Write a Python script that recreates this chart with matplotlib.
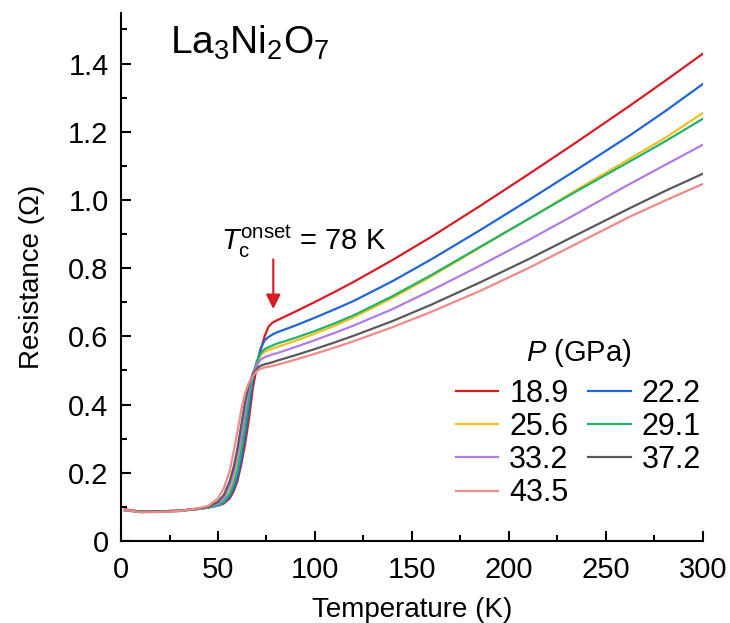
import numpy as np
import matplotlib
matplotlib.use("Agg")
import matplotlib.pyplot as plt
from matplotlib.ticker import MultipleLocator, FuncFormatter

plt.rcParams['font.family'] = ['Liberation Sans', 'DejaVu Sans']
plt.rcParams['mathtext.fontset'] = 'custom'
plt.rcParams['mathtext.rm'] = 'Liberation Sans'
plt.rcParams['mathtext.it'] = 'Liberation Sans:italic'

temps = [2, 10, 20, 30, 40, 45, 50, 53, 56, 58, 60, 62, 64, 66, 68, 70, 72, 74, 76, 78,
         80, 90, 100, 110, 120, 140, 160, 185, 210, 235, 262, 280, 300]

pressures = ['18.9', '22.2', '25.6', '29.1', '33.2', '37.2', '43.5']
colors = ['#d81c24', '#1f66d8', '#f2c01e', '#22b46c', '#b07ce6', '#5a5a5a', '#f08a8a']

r_189 = [0.093, 0.086, 0.087, 0.089, 0.095, 0.099, 0.104, 0.110, 0.125, 0.145, 0.175, 0.225,
         0.285, 0.360, 0.450, 0.510, 0.560, 0.600, 0.628, 0.640,
         0.646, 0.673, 0.701, 0.730, 0.760, 0.824, 0.892, 0.982, 1.075, 1.170, 1.275, 1.347, 1.429]
r_222 = [0.090, 0.085, 0.086, 0.088, 0.094, 0.098, 0.104, 0.112, 0.130, 0.152, 0.185, 0.240,
         0.310, 0.390, 0.470, 0.520, 0.565, 0.588, 0.598, 0.605,
         0.611, 0.632, 0.655, 0.679, 0.704, 0.762, 0.826, 0.911, 0.999, 1.089, 1.188, 1.258, 1.340]
r_256 = [0.091, 0.086, 0.086, 0.088, 0.094, 0.099, 0.106, 0.118, 0.145, 0.175, 0.220, 0.280,
         0.355, 0.430, 0.490, 0.525, 0.545, 0.555, 0.560, 0.564,
         0.568, 0.587, 0.608, 0.631, 0.656, 0.713, 0.776, 0.860, 0.944, 1.030, 1.120, 1.180, 1.255]
r_291 = [0.090, 0.085, 0.086, 0.088, 0.094, 0.098, 0.105, 0.115, 0.138, 0.165, 0.205, 0.265,
         0.340, 0.420, 0.485, 0.527, 0.550, 0.563, 0.568, 0.573,
         0.578, 0.596, 0.616, 0.638, 0.662, 0.718, 0.780, 0.862, 0.944, 1.026, 1.112, 1.170, 1.238]
r_332 = [0.091, 0.086, 0.087, 0.089, 0.095, 0.100, 0.110, 0.125, 0.160, 0.195, 0.245, 0.310,
         0.385, 0.450, 0.492, 0.515, 0.532, 0.539, 0.543, 0.547,
         0.550, 0.569, 0.589, 0.610, 0.632, 0.680, 0.735, 0.807, 0.882, 0.960, 1.046, 1.101, 1.162]
r_372 = [0.092, 0.086, 0.087, 0.089, 0.095, 0.100, 0.115, 0.135, 0.175, 0.215, 0.270, 0.340,
         0.410, 0.460, 0.490, 0.505, 0.514, 0.518, 0.521, 0.524,
         0.528, 0.545, 0.563, 0.582, 0.602, 0.645, 0.693, 0.758, 0.826, 0.898, 0.975, 1.025, 1.077]
r_435 = [0.092, 0.084, 0.085, 0.088, 0.096, 0.103, 0.125, 0.155, 0.205, 0.260, 0.320, 0.385,
         0.435, 0.465, 0.484, 0.498, 0.505, 0.509, 0.511, 0.513,
         0.516, 0.532, 0.549, 0.567, 0.586, 0.627, 0.672, 0.733, 0.800, 0.872, 0.950, 0.997, 1.047]
series = [r_189, r_222, r_256, r_291, r_332, r_372, r_435]

fig = plt.figure(figsize=(7.3, 6.23), dpi=100)
ax = fig.add_axes([0.1658, 0.1316, 0.797, 0.8474])

lines = []
for p, c, r in zip(pressures, colors, series):
    ln, = ax.plot(temps, r, color=c, lw=1.6, label=p)
    lines.append(ln)

ax.set_xlim(0, 300)
ax.set_ylim(0, 1.548)
for side in ['top', 'right']:
    ax.spines[side].set_visible(False)
for side in ['left', 'bottom']:
    ax.spines[side].set_linewidth(1.5)

ax.xaxis.set_major_locator(MultipleLocator(50))
ax.xaxis.set_minor_locator(MultipleLocator(25))
ax.yaxis.set_major_locator(MultipleLocator(0.2))
ax.yaxis.set_minor_locator(MultipleLocator(0.1))
ax.yaxis.set_major_formatter(FuncFormatter(lambda v, pos: '0' if abs(v) < 1e-9 else f'{v:.1f}'))
ax.tick_params(which='major', direction='in', length=7, width=1.5, labelsize=21, pad=9)
ax.tick_params(axis='x', which='major', pad=11)
ax.tick_params(which='minor', direction='in', length=4, width=1.5)

ax.set_xlabel('Temperature (K)', fontsize=20, labelpad=9)
ax.set_ylabel('Resistance (Ω)', fontsize=20, labelpad=17)

ax.text(25.3, 1.43, 'La$_3$Ni$_2$O$_7$', fontsize=28, ha='left', va='baseline')
ax.text(51.5, 0.853, r'$T_\mathrm{c}^\mathrm{onset}$ = 78 K', fontsize=21, ha='left', va='baseline')
ax.annotate('', xy=(78.5, 0.672), xytext=(78.5, 0.834),
            arrowprops=dict(arrowstyle='-|>', color='#d81c24', lw=1.5, mutation_scale=22))

order = [0, 2, 4, 6, 1, 3, 5]
leg = ax.legend([lines[i] for i in order], [pressures[i] for i in order],
                title='$P$ (GPa)', ncol=2, frameon=False, fontsize=22, title_fontsize=21,
                handlelength=1.4, handletextpad=0.35, columnspacing=0.65, labelspacing=0.1,
                loc='center', bbox_to_anchor=(0.786, 0.224), borderpad=0)
leg._legend_box.sep = 7

fig.savefig('out.png', dpi=100)
